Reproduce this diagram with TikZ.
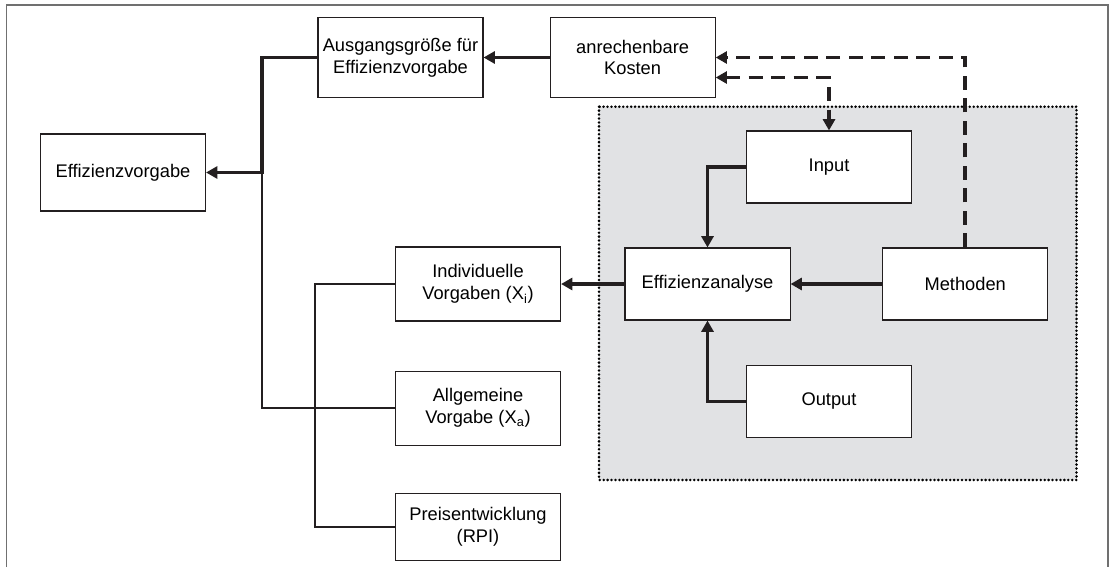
\documentclass[tikz,border=0pt]{standalone}
\usepackage{fontspec}
\setmainfont{Liberation Sans}
\usepackage{tikz}
\usetikzlibrary{arrows.meta, positioning, backgrounds}

\definecolor{linegray}{RGB}{35,31,32}
\definecolor{framegray}{RGB}{112,112,112}
\definecolor{areagray}{RGB}{225,226,228}

\begin{document}
\begin{tikzpicture}[
    x=0.025cm, y=-0.025cm,
    box/.style={
        draw=linegray, line width=0.75pt, rectangle,
        minimum width=4.125cm, minimum height=1.8cm,
        fill=white, inner sep=1pt, align=center,
        font=\fontsize{13}{15.4}\selectfont
    },
    area/.style={
        fill=areagray, draw=black, line width=2pt,
        line cap=round, dash pattern=on 0pt off 2.8pt
    },
    arr/.style={-{Triangle[length=8pt, width=8.5pt]}, line width=2.5pt, draw=linegray},
    darr/.style={arr, dash pattern=on 10pt off 6pt},
    link/.style={line width=1.8pt, draw=linegray},
    node distance=1.2cm and 2cm
]
\useasboundingbox (0,0) rectangle (1112,567);

% outer frame
\draw[framegray, line width=1.4pt] (6.5,567) |- (1108,4.7) -- (1108,567);

\node[box, minimum height=2cm] (ausg) at (400.5,57.5) {Ausgangsgröße für\\Effizienzvorgabe};
\node[box, minimum height=2cm, right=1.65cm of ausg] (anr) {anrechenbare\\Kosten};
\node[box, minimum height=1.925cm] (effv) at (123,172.5) {Effizienzvorgabe};

\node[box] (inp)  at (829,167)   {Input};
\node[box] (effa) at (707.5,284) {Effizienzanalyse};
\node[box, right=2.29cm of effa] (meth) {Methoden};
\node[box] (outp) at (829,401.3) {Output};

\node[box, minimum height=1.85cm] (indiv) at (478,284) {Individuelle\\Vorgaben (X\textsubscript{i})};
\node[box, minimum height=1.85cm, below=1.225cm of indiv] (allg) {Allgemeine\\Vorgabe (X\textsubscript{a})};
\node[box, minimum height=1.665cm, below=1.19cm of allg] (preis) {Preisentwicklung\\(RPI)};

\coordinate (busL) at (262,0);
\coordinate (busR) at (315,0);

\draw[arr] (anr) -- (ausg);
\draw[arr] (ausg.west) -| (busL |- effv.east) -- (effv.east);
\draw[link] (busL |- effv.east) |- (allg.west);
\draw[link] (indiv.west) -| (busR |- preis.west) -- (preis.west);

\draw[arr] (effa) -- (indiv);
\draw[arr] (meth) -- (effa);
\draw[arr] (inp.west) -| (effa.north);
\draw[arr] (outp.west) -| (effa.south);

\draw[darr] (meth.north) |- (anr.east);
\draw[darr, {Triangle[length=8pt, width=8.5pt]}-{Triangle[length=8pt, width=8.5pt]}]
    ([yshift=-0.5cm]anr.east) -| (inp.north);

\begin{scope}[on background layer]
    \draw[area] (599,106.7) rectangle (1076.5,480);
\end{scope}

\end{tikzpicture}
\end{document}
